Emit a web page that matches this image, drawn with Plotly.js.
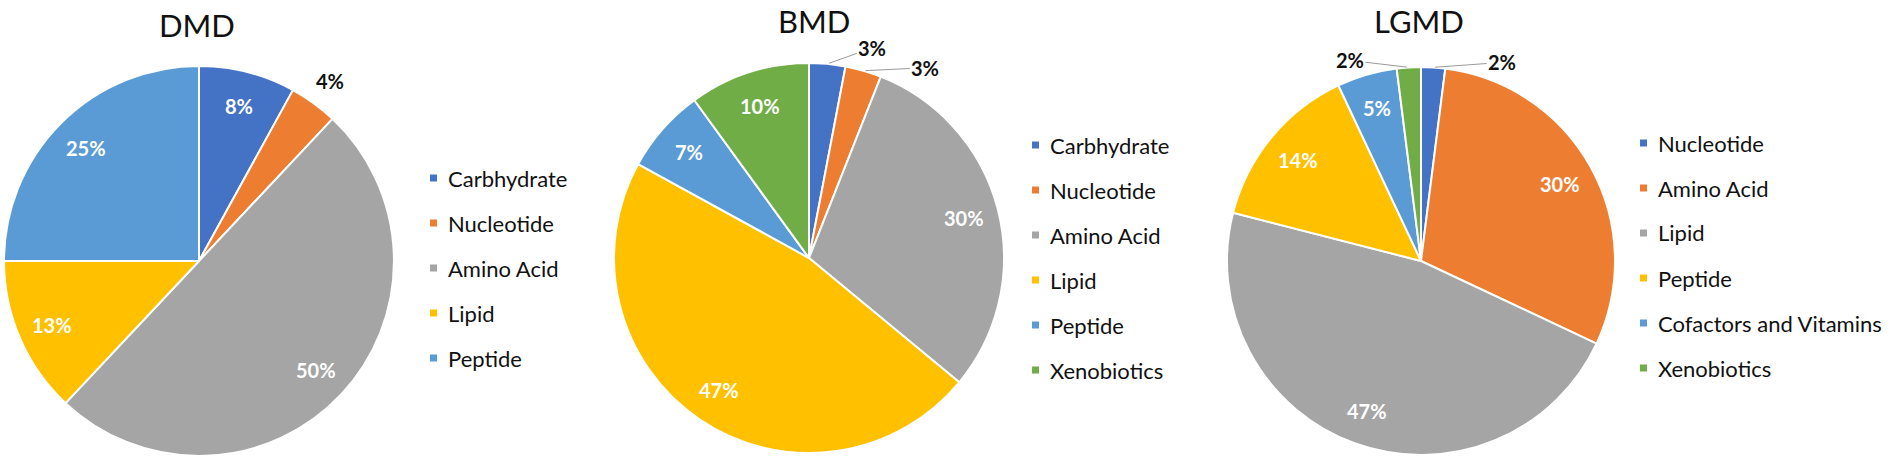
<!DOCTYPE html>
<html>
<head>
<meta charset="utf-8">
<script src="https://cdn.plot.ly/plotly-3.0.1.min.js"></script>
<style>
  html, body { margin: 0; padding: 0; background: #fff; }
  #chart { width: 1890px; height: 460px; }
</style>
</head>
<body>
<div id="chart"></div>
<script>
// Données des trois graphiques (pourcentages)
const dmdLabels = ['Carbhydrate', 'Nucleotide', 'Amino Acid', 'Lipid', 'Peptide'];
const dmdValues = [8, 4, 50, 13, 25];

const bmdLabels = ['Carbhydrate', 'Nucleotide', 'Amino Acid', 'Lipid', 'Peptide', 'Xenobiotics'];
const bmdValues = [3, 3, 30, 47, 7, 10];

const lgmdLabels = ['Nucleotide', 'Amino Acid', 'Lipid', 'Peptide', 'Cofactors and Vitamins', 'Xenobiotics'];
const lgmdValues = [2, 30, 47, 14, 5, 2];

const chartTitles = ['DMD', 'BMD', 'LGMD'];

// Palette Office
const palette = ['#4472C4', '#ED7D31', '#A5A5A5', '#FFC000', '#5B9BD5', '#70AD47'];

const W = 1890;
const H = 460;
const FONT = 'Lato, "Open Sans", sans-serif';

// Conversion pixels -> coordonnées papier
const px = x => x / W;
const py = y => 1 - y / H;

// Géométrie de chaque camembert : centre, rayon, titre, légende
// callouts : décalage (px) des étiquettes reliées par un trait
const panels = [
    { labels: dmdLabels, values: dmdValues, cx: 199, cy: 261, r: 195,
      titleX: 197, titleY: 4, legX: 430, legY: 178, callouts: {} },
    { labels: bmdLabels, values: bmdValues, cx: 809, cy: 258, r: 195,
      titleX: 814, titleY: 0, legX: 1032, legY: 145,
      callouts: { 0: [45, -16], 1: [62, -3] } },
    { labels: lgmdLabels, values: lgmdValues, cx: 1421, cy: 261, r: 194,
      titleX: 1419, titleY: 0, legX: 1640, legY: 143,
      callouts: { 0: [69, -5], 5: [-59, -7] } }
];

const INSIDE_R = 0.82;   // étiquettes intérieures
const OUTSIDE_R = 1.14;  // étiquettes extérieures sans trait
const traces = [];
const annotations = [];
const shapes = [];
const legendStep = 45;

panels.forEach((p, k) => {
    const colors = p.labels.map((_, i) => palette[i]);

    traces.push({
        type: 'pie',
        labels: p.labels,
        values: p.values,
        sort: false,
        direction: 'clockwise',
        rotation: 0,
        marker: { colors, line: { color: '#ffffff', width: 2 } },
        textinfo: 'none',
        hoverinfo: 'label+percent',
        showlegend: false,
        domain: {
            x: [px(p.cx - p.r), px(p.cx + p.r)],
            y: [py(p.cy + p.r), py(p.cy - p.r)]
        }
    });

    // Étiquettes de pourcentage, placées sur l'angle médian de chaque part
    const total = p.values.reduce((a, b) => a + b, 0);
    let cum = 0;
    p.values.forEach((v, i) => {
        const mid = (cum + v / 2) / total * 2 * Math.PI;
        cum += v;
        const sx = Math.sin(mid);
        const sy = -Math.cos(mid);
        const lbl = {
            text: '<b>' + v + '%</b>',
            xref: 'paper', yref: 'paper',
            xanchor: 'center', yanchor: 'middle',
            showarrow: false,
            font: { family: FONT, size: 20, color: '#ffffff' }
        };
        if (p.callouts[i]) {
            // petite part : étiquette extérieure avec trait de rappel
            lbl.x = px(p.cx + sx * p.r);
            lbl.y = py(p.cy + sy * p.r);
            lbl.showarrow = true;
            lbl.arrowhead = 0;
            lbl.arrowwidth = 1;
            lbl.arrowcolor = '#9a9a9a';
            lbl.standoff = 2;
            lbl.ax = p.callouts[i][0];
            lbl.ay = p.callouts[i][1];
            lbl.font.color = '#111111';
        } else {
            const f = v < 5 ? OUTSIDE_R : INSIDE_R;
            lbl.x = px(p.cx + sx * p.r * f);
            lbl.y = py(p.cy + sy * p.r * f);
            if (v < 5) lbl.font.color = '#111111';
        }
        annotations.push(lbl);
    });

    // Titre
    annotations.push({
        text: chartTitles[k],
        xref: 'paper', yref: 'paper',
        x: px(p.titleX), y: py(p.titleY),
        xanchor: 'center', yanchor: 'top',
        showarrow: false,
        font: { family: FONT, size: 31, color: '#111111' }
    });

    // Légende
    p.labels.forEach((lab, i) => {
        const yc = p.legY + i * legendStep;
        shapes.push({
            type: 'rect',
            xref: 'paper', yref: 'paper',
            x0: px(p.legX), x1: px(p.legX + 7),
            y0: py(yc + 3.5), y1: py(yc - 3.5),
            fillcolor: colors[i],
            line: { width: 0 }
        });
        annotations.push({
            text: lab,
            xref: 'paper', yref: 'paper',
            x: px(p.legX + 16), y: py(yc),
            xanchor: 'left', yanchor: 'middle',
            showarrow: false,
            font: { family: FONT, size: 22, color: '#111111' }
        });
    });
});

const layout = {
    width: W,
    height: H,
    margin: { l: 0, r: 0, t: 0, b: 0 },
    paper_bgcolor: '#ffffff',
    showlegend: false,
    annotations,
    shapes
};

Plotly.newPlot('chart', traces, layout, { displayModeBar: false, staticPlot: true });
</script>
</body>
</html>
